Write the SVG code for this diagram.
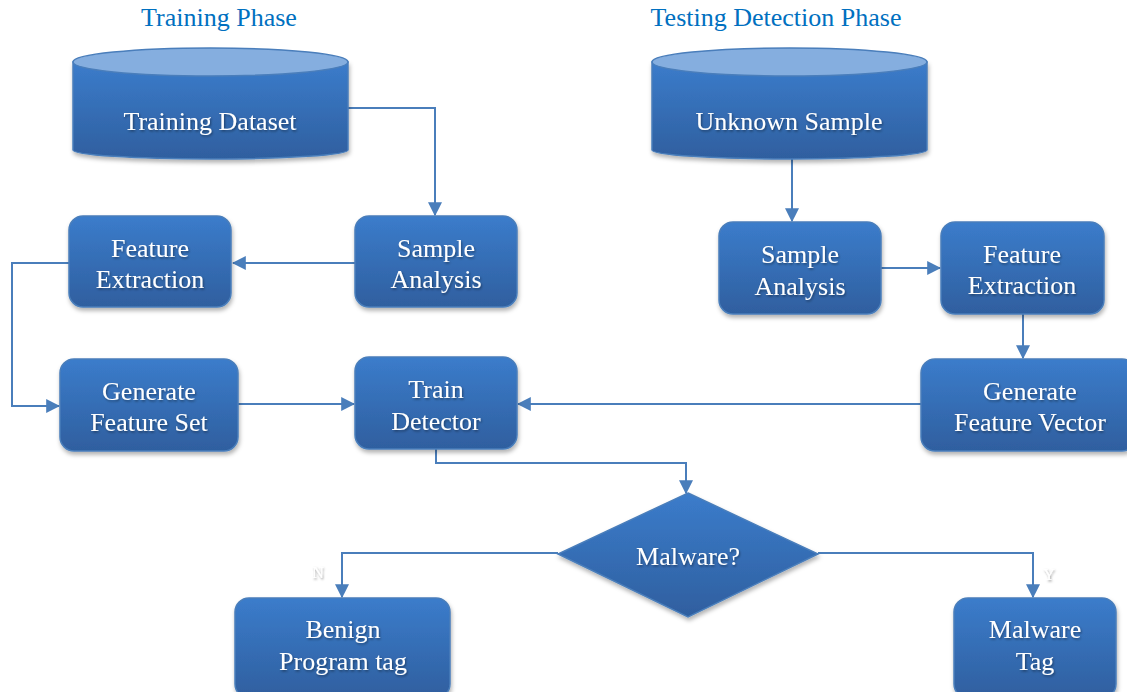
<svg xmlns="http://www.w3.org/2000/svg" width="1127" height="692" viewBox="0 0 1127 692">
<style>
.title{font-family:"Liberation Serif",serif;font-size:26px;fill:#0070C0;text-anchor:middle}
.lbl{font-family:"Liberation Serif",serif;font-size:26px;fill:#ffffff;text-anchor:middle;filter:url(#tsh)}
.yn{font-family:"Liberation Serif",serif;font-size:16px;fill:#ffffff;text-anchor:middle;filter:url(#tsh)}
.box{fill:url(#g);stroke:#4A7EBB;stroke-width:1.5;filter:url(#sh)}
.con{fill:none;stroke:#4A7EBB;stroke-width:2}
</style>
<defs>
<linearGradient id="g" x1="0" y1="0" x2="0" y2="1">
<stop offset="0" stop-color="#3B7CCB"/>
<stop offset="1" stop-color="#2F5F9F"/>
</linearGradient>
<filter id="sh" x="-10%" y="-10%" width="125%" height="130%">
<feDropShadow dx="1" dy="3" stdDeviation="2" flood-color="#000" flood-opacity="0.3"/>
</filter>
<filter id="tsh" x="-10%" y="-20%" width="125%" height="150%">
<feDropShadow dx="1" dy="1.5" stdDeviation="1.2" flood-color="#000" flood-opacity="0.4"/>
</filter>
<marker id="a" viewBox="0 0 12 12" refX="11" refY="6" markerWidth="14" markerHeight="14" orient="auto" markerUnits="userSpaceOnUse">
<path d="M0,0 L12,6 L0,12 z" fill="#4A7EBB"/>
</marker>
</defs>

<text class="title" x="219" y="26">Training Phase</text>
<text class="title" x="776" y="26">Testing Detection Phase</text>

<g id="connectors">
<path class="con" d="M348,108 H435 V215" marker-end="url(#a)"/>
<path class="con" d="M355,263 H233" marker-end="url(#a)"/>
<path class="con" d="M69,263 H12 V406 H59" marker-end="url(#a)"/>
<path class="con" d="M238,404 H354" marker-end="url(#a)"/>
<path class="con" d="M792,158 V221" marker-end="url(#a)"/>
<path class="con" d="M881,268 H940" marker-end="url(#a)"/>
<path class="con" d="M1023,314 V358" marker-end="url(#a)"/>
<path class="con" d="M921,404 H518" marker-end="url(#a)"/>
<path class="con" d="M436,449 V463 H686 V493" marker-end="url(#a)"/>
<path class="con" d="M558,553 H342 V597" marker-end="url(#a)"/>
<path class="con" d="M818,553 H1033 V597" marker-end="url(#a)"/>
</g>

<g id="training-dataset">
<path d="M73,62 V150 A137.5,9 0 0 0 348,150 V62 Z" fill="url(#g)" stroke="#4A7EBB" stroke-width="1.5" filter="url(#sh)"/>
<ellipse cx="210.5" cy="62" rx="137.5" ry="14" fill="#85AEDF" stroke="#4A7EBB" stroke-width="1.5"/>
<text class="lbl" x="210" y="130">Training Dataset</text>
</g>

<g id="unknown-sample">
<path d="M652,62 V150 A137.5,9 0 0 0 927,150 V62 Z" fill="url(#g)" stroke="#4A7EBB" stroke-width="1.5" filter="url(#sh)"/>
<ellipse cx="789.5" cy="62" rx="137.5" ry="14" fill="#85AEDF" stroke="#4A7EBB" stroke-width="1.5"/>
<text class="lbl" x="789" y="130">Unknown Sample</text>
</g>

<g id="sample-analysis-train">
<rect class="box" x="355" y="216" width="162" height="91" rx="14"/>
<text class="lbl" x="436" y="257">Sample</text>
<text class="lbl" x="436" y="288">Analysis</text>
</g>

<g id="feature-extraction-train">
<rect class="box" x="69" y="216" width="162" height="91" rx="14"/>
<text class="lbl" x="150" y="257">Feature</text>
<text class="lbl" x="150" y="288">Extraction</text>
</g>

<g id="generate-feature-set">
<rect class="box" x="60" y="359" width="178" height="92" rx="14"/>
<text class="lbl" x="149" y="400">Generate</text>
<text class="lbl" x="149" y="431">Feature Set</text>
</g>

<g id="train-detector">
<rect class="box" x="355" y="357" width="162" height="92" rx="14"/>
<text class="lbl" x="436" y="398">Train</text>
<text class="lbl" x="436" y="430">Detector</text>
</g>

<g id="sample-analysis-test">
<rect class="box" x="719" y="222" width="162" height="92" rx="14"/>
<text class="lbl" x="800" y="263">Sample</text>
<text class="lbl" x="800" y="295">Analysis</text>
</g>

<g id="feature-extraction-test">
<rect class="box" x="941" y="222" width="163" height="92" rx="14"/>
<text class="lbl" x="1022" y="263">Feature</text>
<text class="lbl" x="1022" y="294">Extraction</text>
</g>

<g id="generate-feature-vector">
<rect class="box" x="921" y="359" width="215" height="92" rx="14"/>
<text class="lbl" x="1030" y="400">Generate</text>
<text class="lbl" x="1030" y="431">Feature Vector</text>
</g>

<g id="malware-decision">
<polygon points="688,493 818,554 688,617 558,554" fill="url(#g)" stroke="#4A7EBB" stroke-width="1.5" filter="url(#sh)"/>
<text class="lbl" x="688" y="565">Malware?</text>
</g>

<g id="benign-tag">
<rect class="box" x="235" y="598" width="215" height="100" rx="14"/>
<text class="lbl" x="343" y="638">Benign</text>
<text class="lbl" x="343" y="670">Program tag</text>
</g>

<g id="malware-tag">
<rect class="box" x="954" y="598" width="162" height="100" rx="14"/>
<text class="lbl" x="1035" y="638">Malware</text>
<text class="lbl" x="1035" y="670">Tag</text>
</g>

<text class="yn" x="318" y="578">N</text>
<text class="yn" x="1049" y="580">Y</text>
</svg>
